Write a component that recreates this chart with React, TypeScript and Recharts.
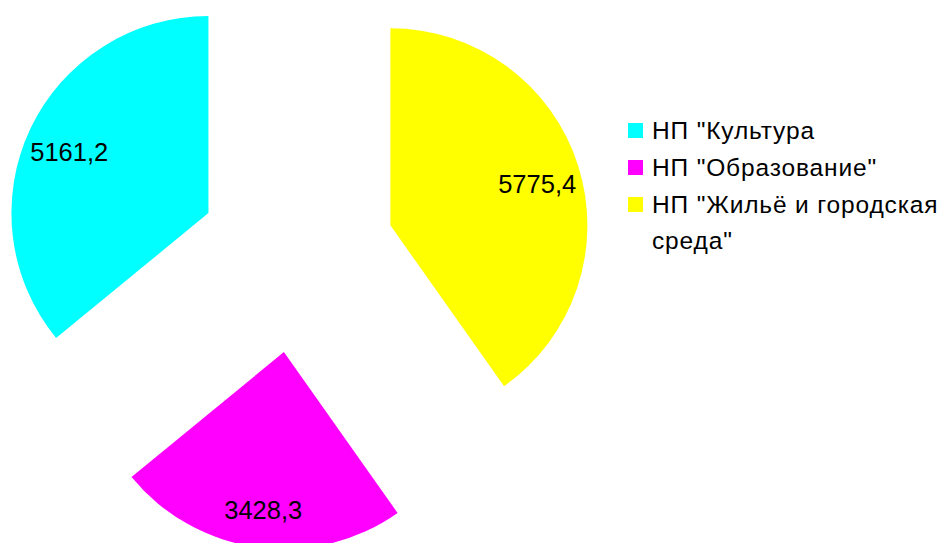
import React from 'react';
import { PieChart, Pie, Cell, Sector, Legend } from 'recharts';

const categories = ['НП "Культура', 'НП "Образование"', 'НП "Жильё и городская среда"'];
const values = [5161.2, 3428.3, 5775.4];
const colors = ['#00FFFF', '#FF00FF', '#FFFF00'];

const data = categories.map((name, i) => ({ name, value: values[i] }));

const RAD = Math.PI / 180;
const EXPLODE = 98;
const LABEL_R = 154;
const FONT = '"Liberation Sans", Arial, sans-serif';

const renderSlice = (props: any) => {
  const { cx, cy, midAngle, outerRadius, startAngle, endAngle, index, value } = props;
  const ox = cx + EXPLODE * Math.cos(-midAngle * RAD);
  const oy = cy + EXPLODE * Math.sin(-midAngle * RAD);
  const lx = ox + LABEL_R * Math.cos(-midAngle * RAD);
  const ly = oy + LABEL_R * Math.sin(-midAngle * RAD);
  return (
    <g key={`slice-${index}`}>
      <Sector
        cx={ox}
        cy={oy}
        innerRadius={0}
        outerRadius={outerRadius}
        startAngle={startAngle}
        endAngle={endAngle}
        fill={colors[index]}
        stroke="none"
      />
      <text
        x={lx}
        y={ly}
        dy={5}
        textAnchor="middle"
        dominantBaseline="central"
        fill="#000"
        style={{ fontFamily: FONT, fontSize: 25.5 }}
      >
        {Number(value).toFixed(1).replace('.', ',')}
      </text>
    </g>
  );
};

const renderLegend = () => (
  <div style={{ fontFamily: FONT, fontSize: 24.5, letterSpacing: 0.85, lineHeight: '36px', color: '#000' }}>
    {categories.map((c, i) => (
      <div key={c} style={{ display: 'flex', alignItems: 'flex-start', marginBottom: 1 }}>
        <div
          style={{
            width: 15,
            height: 15,
            background: colors[i],
            marginTop: 10,
            marginRight: 9,
            flex: 'none',
          }}
        />
        <div style={{ width: 289, textAlign: 'left' }}>{c}</div>
      </div>
    ))}
  </div>
);

export default function App() {
  return (
    <div style={{ position: 'fixed', left: 0, top: 0, width: 941, height: 543, background: '#fff' }}>
      <PieChart width={941} height={543} margin={{ top: 0, right: 0, bottom: 0, left: 0 }}>
        <Pie
          data={data}
          dataKey="value"
          nameKey="name"
          cx={297}
          cy={255}
          outerRadius={197}
          startAngle={90}
          endAngle={450}
          stroke="none"
          label={renderSlice}
          labelLine={false}
          isAnimationActive={false}
        >
          {data.map((d) => (
            <Cell key={d.name} fill="transparent" stroke="none" />
          ))}
        </Pie>
        <Legend
          content={renderLegend}
          wrapperStyle={{ position: 'absolute', left: 628, top: 113, width: 313, bottom: 'auto', right: 'auto' }}
        />
      </PieChart>
    </div>
  );
}
